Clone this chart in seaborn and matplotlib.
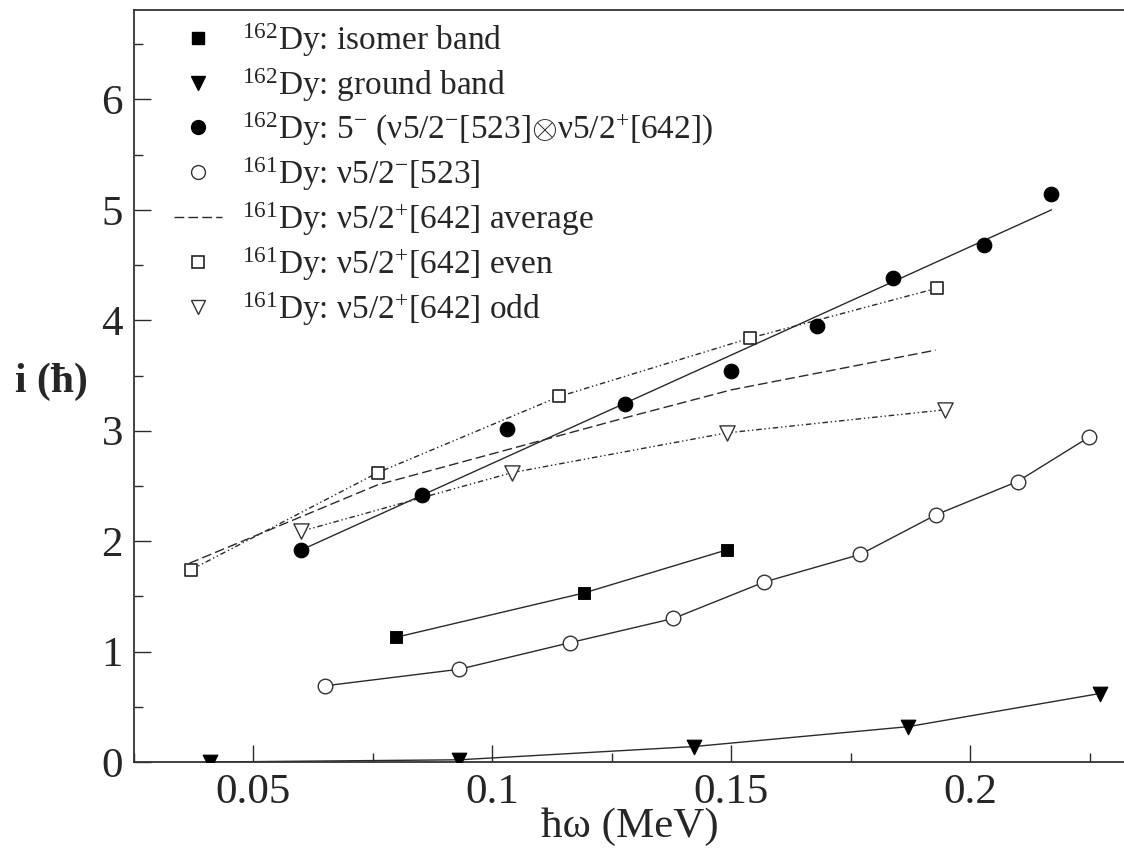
import matplotlib
matplotlib.use("Agg")
import matplotlib.pyplot as plt
import seaborn as sns
import pandas as pd
from matplotlib.lines import Line2D
from matplotlib.ticker import MultipleLocator

# ---- data ----
iso_x = [0.0799, 0.1191, 0.1490]
iso_y = [1.13, 1.53, 1.92]

gnd_x = [0.0410, 0.0931, 0.1422, 0.1870, 0.2271]
gnd_y = [0.00, 0.02, 0.14, 0.32, 0.62]

five_x = [0.0600, 0.0852, 0.1030, 0.1278, 0.1500, 0.1679, 0.1839, 0.2029, 0.2170]
five_y = [1.92, 2.42, 3.02, 3.24, 3.54, 3.95, 4.38, 4.68, 5.14]
five_fit_x = [0.0600, 0.1278, 0.2170]
five_fit_y = [1.92, 3.25, 5.00]

c161_x = [0.0650, 0.0931, 0.1162, 0.1379, 0.1569, 0.1770, 0.1929, 0.2099, 0.2248]
c161_y = [0.69, 0.84, 1.08, 1.30, 1.63, 1.88, 2.24, 2.54, 2.94]

even_x = [0.0369, 0.0760, 0.1140, 0.1540, 0.1930]
even_y = [1.74, 2.62, 3.31, 3.84, 4.29]

odd_x = [0.0600, 0.1041, 0.1490, 0.1948]
odd_y = [2.09, 2.62, 2.98, 3.19]

avg_x = [0.0366, 0.0760, 0.1289, 0.1500, 0.1928]
avg_y = [1.80, 2.51, 3.13, 3.37, 3.73]

labels = [
    r"$^{162}$Dy: isomer band",
    r"$^{162}$Dy: ground band",
    r"$^{162}$Dy: 5$^{-}$ (ν5/2$^{-}$[523]$\otimes$ν5/2$^{+}$[642])",
    r"$^{161}$Dy: ν5/2$^{-}$[523]",
    r"$^{161}$Dy: ν5/2$^{+}$[642] average",
    r"$^{161}$Dy: ν5/2$^{+}$[642] even",
    r"$^{161}$Dy: ν5/2$^{+}$[642] odd",
]
xticks = [0.05, 0.1, 0.15, 0.2]
xticklabels = ["0.05", "0.1", "0.15", "0.2"]
yticks = [0, 1, 2, 3, 4, 5, 6]

# ---- style ----
sns.set_theme(style="ticks")
plt.rcParams["font.family"] = ["Liberation Serif", "DejaVu Serif"]
plt.rcParams["mathtext.fontset"] = "custom"
plt.rcParams["mathtext.rm"] = "Liberation Serif"
plt.rcParams["mathtext.it"] = "Liberation Serif:italic"
plt.rcParams["mathtext.bf"] = "Liberation Serif:bold"

LC = "#2a2a2a"
DDOT = (4, 2, 1, 2, 1, 2)

fig = plt.figure(figsize=(11.24, 8.52), dpi=100)
ax = fig.add_axes([134 / 1124, 90 / 852, 992 / 1124, 752 / 852])

def df(x, y):
    return pd.DataFrame({"x": x, "y": y})

def line(x, y, dashes=None):
    ln = sns.lineplot(data=df(x, y), x="x", y="y", ax=ax, color=LC, lw=1.0,
                      sort=False, estimator=None).lines[-1]
    if dashes is not None:
        ln.set_dashes(dashes)
    return ln

# lines
line(iso_x, iso_y)
line(gnd_x, gnd_y)
line(five_fit_x, five_fit_y)
line(c161_x, c161_y)
line(avg_x, avg_y, (7, 3))
line(even_x, even_y, DDOT)
line(odd_x, odd_y, DDOT)

# markers
sns.scatterplot(data=df(iso_x, iso_y), x="x", y="y", ax=ax, marker="s", s=64, color="black", edgecolor="black", zorder=3)
sns.scatterplot(data=df(gnd_x, gnd_y), x="x", y="y", ax=ax, marker="v", s=110, color="black", edgecolor="black", zorder=3)
sns.scatterplot(data=df(five_x, five_y), x="x", y="y", ax=ax, marker="o", s=110, color="black", edgecolor="black", zorder=3)
sns.scatterplot(data=df(c161_x, c161_y), x="x", y="y", ax=ax, marker="o", s=110, facecolor="white", edgecolor="#333333", linewidth=1.0, zorder=3)
sns.scatterplot(data=df(even_x, even_y), x="x", y="y", ax=ax, marker="s", s=70, facecolor="white", edgecolor="#222222", linewidth=1.2, zorder=3)
sns.scatterplot(data=df(odd_x, odd_y), x="x", y="y", ax=ax, marker="v", s=120, facecolor="white", edgecolor="#333333", linewidth=1.0, zorder=3)

# axes
ax.set_xlim(0.025, 0.2326)
ax.set_ylim(0, 6.81)
ax.set_xticks(xticks)
ax.set_xticklabels(xticklabels)
ax.set_yticks(yticks)
ax.xaxis.set_minor_locator(MultipleLocator(0.025))
ax.yaxis.set_minor_locator(MultipleLocator(0.5))
ax.tick_params(which="major", direction="in", length=12, width=1.0, labelsize=31, color=LC, pad=8)
ax.tick_params(which="minor", direction="in", length=6.5, width=1.0, color=LC)
ax.tick_params(axis="x", which="both", top=False)
ax.tick_params(axis="y", which="both", right=False)
for side in ["left", "bottom", "top"]:
    ax.spines[side].set_linewidth(1.3)
    ax.spines[side].set_color("#333333")
ax.spines["right"].set_visible(False)

ax.set_xlabel("ħω (MeV)", fontsize=31, labelpad=-3)
ax.set_ylabel("i (ħ)", fontsize=30, fontweight="bold", rotation=0, va="center", ha="center")
ax.yaxis.set_label_coords(-0.083, 0.505)

# legend
handles = [
    Line2D([], [], ls="none", marker="s", ms=8, mfc="black", mec="black"),
    Line2D([], [], ls="none", marker="v", ms=10, mfc="black", mec="black"),
    Line2D([], [], ls="none", marker="o", ms=10, mfc="black", mec="black"),
    Line2D([], [], ls="none", marker="o", ms=10, mfc="white", mec="#333333"),
    Line2D([], [], color=LC, lw=1.0, dashes=(7, 3)),
    Line2D([], [], ls="none", marker="s", ms=8, mfc="white", mec="#222222", mew=1.2),
    Line2D([], [], ls="none", marker="v", ms=10, mfc="white", mec="#333333"),
]
ax.legend(handles, labels, loc="upper left", bbox_to_anchor=(0.02, 1.012), frameon=False,
          fontsize=24, handlelength=1.45, handletextpad=0.6, labelspacing=0.22, borderaxespad=0.2)

fig.savefig("out.png", dpi=100)
